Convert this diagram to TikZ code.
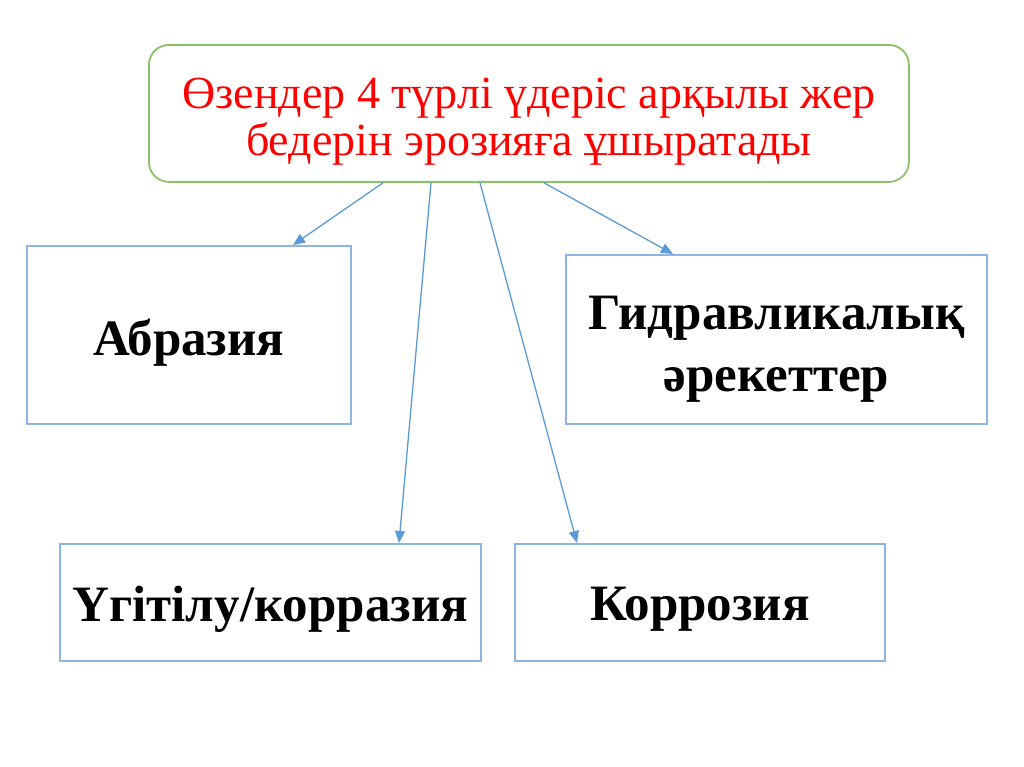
\documentclass[tikz,border=0pt]{standalone}
\usepackage{fontspec}
\setmainfont{Liberation Serif}
\usetikzlibrary{arrows.meta,calc}
\definecolor{bluebox}{HTML}{8EB4E3}
\definecolor{arrowblue}{HTML}{5B9BD5}
\definecolor{greenbox}{HTML}{8CC168}
\definecolor{redtext}{HTML}{FF0000}
\tikzset{
  subbox/.style={draw=bluebox,line width=1.8pt,anchor=north west,inner sep=0pt},
  subtext/.style={font=\fontsize{51}{62}\selectfont\bfseries,align=center,inner sep=0pt},
  topbox/.style={draw=greenbox,line width=1.8pt,rounded corners=20pt,anchor=north west,inner sep=0pt},
  toptext/.style={font=\fontsize{46}{47}\selectfont,text=redtext,align=center,inner sep=0pt},
  link/.style={draw=arrowblue,line width=1.3pt,-{Triangle[length=12pt,width=10pt]}}
}
\begin{document}
\begin{tikzpicture}[x=1pt,y=-1pt]
\useasboundingbox[fill=white] (0,0) rectangle (1024,767);
\node[topbox,minimum width=760pt,minimum height=137pt] (top) at (148,44) {};
\node[toptext] (toptxt) at ([yshift=-8pt]top.center) {Өзендер 4 түрлі үдеріс арқылы жер\\бедерін эрозияға ұшыратады};
\node[subbox,minimum width=324pt,minimum height=178pt] (abr) at (26,245) {};
\node[subtext] (abrtxt) at ([yshift=-8pt]abr.center) {Абразия};
\node[subbox,minimum width=421pt,minimum height=169pt] (gid) at (565,254) {};
\node[subtext] (gidtxt) at ([yshift=-10pt]gid.center) {Гидравликалық\\әрекеттер};
\node[subbox,minimum width=421pt,minimum height=117pt] (ugi) at (59,543) {};
\node[subtext] (ugitxt) at ([yshift=-7pt]ugi.center) {Үгітілу/корразия};
\node[subbox,minimum width=370pt,minimum height=117pt] (kor) at (514,543) {};
\node[subtext] (kortxt) at ([yshift=-7pt]kor.center) {Коррозия};
\draw[link] ([xshift=235pt]top.south west) -- ([xshift=267pt]abr.north west);
\draw[link] ([xshift=283pt]top.south west) -- ([xshift=340pt]ugi.north west);
\draw[link] ([xshift=332pt]top.south west) -- ([xshift=63pt]kor.north west);
\draw[link] ([xshift=396pt]top.south west) -- ([xshift=108pt]gid.north west);
\end{tikzpicture}
\end{document}
